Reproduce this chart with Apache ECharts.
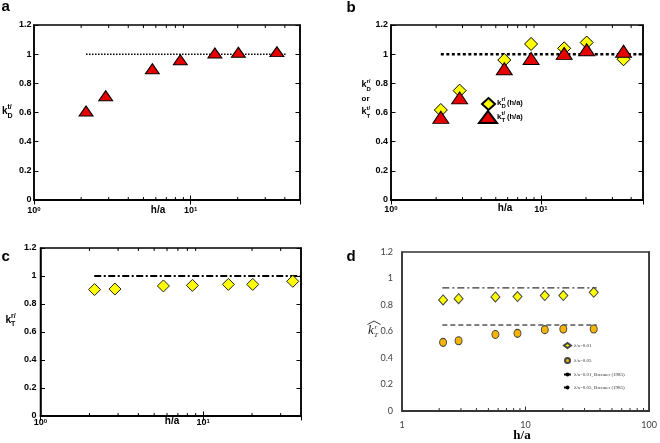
<!DOCTYPE html>
<html><head><meta charset="utf-8">
<script src="https://cdn.jsdelivr.net/npm/echarts@6/dist/echarts.min.js"></script>
<style>html,body{margin:0;padding:0;background:#fff}#c{width:660px;height:443px}</style>
</head><body><div id="c"></div>
<script>
// ---- data ----
const hA = [2.15, 2.87, 5.7, 8.6, 14.3, 20.2, 35.6];
const kDt_a = [0.61, 0.715, 0.90, 0.962, 1.008, 1.013, 1.017];
const kDr_b = [0.617, 0.75, 0.96, 1.07, 1.04, 1.08, 0.965];
const kTt_b = [0.567, 0.70, 0.90, 0.97, 1.005, 1.03, 1.02];
const kTr_c = [0.903, 0.907, 0.929, 0.933, 0.94, 0.94, 0.962];
const kT_d001 = [0.838, 0.848, 0.861, 0.864, 0.871, 0.871, 0.896];
const kT_d005 = [0.518, 0.53, 0.578, 0.586, 0.614, 0.619, 0.619];
const refX_a = [2.15, 41];
const refX_b = [2.15, 47];
const refX_c = [2.14, 40];
const refX_d = [2.12, 37.6];
const refY = 1;
const brenner001 = 0.929;
const brenner005 = 0.649;
const xMaxes = [50, 48, 40, 100];
const logTickLabels = {1: '10{s|0}', 10: '10{s|1}'};
const dTickLabels = {1: '1', 10: '10', 100: '100'};
const minorTicks = [2, 3, 4, 5, 6, 7, 8, 9, 20, 30, 40, 50, 60, 70, 80, 90];
const legendNamesD = ['λ/a=0.01', 'λ/a=0.05', 'λ/a=0.01, Brenner (1985)', 'λ/a=0.05, Brenner (1985)'];

const chart = echarts.init(document.getElementById('c'), null, {renderer: 'canvas'});
const SANS = '"Liberation Sans", Arial, sans-serif';
const SERIF = '"Liberation Serif", "Times New Roman", serif';

const grids = [
  {left: 34, top: 25, width: 266, height: 175},
  {left: 391, top: 25, width: 252, height: 175},
  {left: 40.5, top: 248, width: 260.5, height: 168},
  {left: 402, top: 252, width: 250, height: 159}
].map((g, i) => Object.assign(g, {show: true, borderColor: i === 3 ? '#333' : '#000', borderWidth: 1.5, backgroundColor: 'transparent'}));

function isPow10(v) { const l = Math.log10(v); return Math.abs(l - Math.round(l)) < 1e-6; }

const xLabelMargin = [6, 5.5, 2, 10];
const yLabelMargin = [2.5, 3, 4, 9];
const xAxis = [], yAxis = [];
for (let i = 0; i < 4; i++) {
  const isD = i === 3;
  const col = isD ? '#333' : '#000';
  xAxis.push({
    type: 'log', logBase: 10, gridIndex: i, min: 1, max: xMaxes[i],
    axisLine: {show: true, lineStyle: {color: col, width: 1.5}},
    axisTick: {show: true, inside: true, length: 4.5, lineStyle: {color: col, width: 1}},
    splitLine: {show: false}, minorTick: {show: false},
    axisLabel: {
      show: true, margin: xLabelMargin[i], showMaxLabel: isD, showMinLabel: true,
      formatter: v => {
        if (!isPow10(v)) return '';
        const r = Math.round(v);
        return isD ? (dTickLabels[r] || '') : (logTickLabels[r] || '');
      },
      color: isD ? '#404040' : '#000',
      fontSize: 9, fontWeight: isD ? 'normal' : 'bold', fontFamily: isD ? 'Lato, sans-serif' : SANS,
      rich: {s: {fontSize: 6, fontWeight: 'bold', fontFamily: SANS, verticalAlign: 'top', lineHeight: 6, color: '#000'}}
    }
  });
  xAxis.push({
    type: 'log', logBase: 10, gridIndex: i, min: 1, max: xMaxes[i], position: 'top',
    axisLine: {show: true, lineStyle: {color: col, width: 1.5}},
    axisTick: {show: !isD, inside: true, length: 4.5, lineStyle: {color: col, width: 1}},
    axisLabel: {show: false}, splitLine: {show: false}
  });
  yAxis.push({
    type: 'value', gridIndex: i, min: 0, max: 1.2, interval: 0.2,
    axisLine: {show: true, lineStyle: {color: col, width: 1.5}},
    axisTick: {show: !isD, inside: true, length: 4.5, lineStyle: {color: col, width: 1}},
    splitLine: {show: false},
    axisLabel: {show: true, margin: yLabelMargin[i], color: isD ? '#404040' : '#000', fontSize: 9,
      fontWeight: isD ? 'normal' : 'bold', fontFamily: isD ? 'Lato, sans-serif' : SANS}
  });
  yAxis.push({
    type: 'value', gridIndex: i, min: 0, max: 1.2, interval: 0.2, position: 'right',
    axisLine: {show: true, lineStyle: {color: col, width: 1.5}},
    axisTick: {show: !isD, inside: true, length: 4.5, lineStyle: {color: col, width: 1}},
    splitLine: {show: false}, axisLabel: {show: false}
  });
}

function minorTickSeries(i, both, len, color) {
  const ticks = minorTicks.filter(v => v < xMaxes[i]);
  return {
    type: 'custom', xAxisIndex: 2 * i, yAxisIndex: 2 * i, silent: true, z: 10,
    data: ticks.map(v => [v, 0]),
    renderItem(params, api) {
      const x = api.value(0);
      const p0 = api.coord([x, 0]);
      const p1 = api.coord([x, 1.2]);
      const ch = [{type: 'line', shape: {x1: p0[0], y1: p0[1], x2: p0[0], y2: p0[1] - len}, style: {stroke: color, lineWidth: 1}}];
      if (both) ch.push({type: 'line', shape: {x1: p1[0], y1: p1[1], x2: p1[0], y2: p1[1] + len}, style: {stroke: color, lineWidth: 1}});
      return {type: 'group', children: ch};
    }
  };
}

function refLine(i, name, xs, y, lineStyle) {
  return {type: 'line', name, xAxisIndex: 2 * i, yAxisIndex: 2 * i, symbol: 'none', silent: true,
    data: xs.map(x => [x, y]), lineStyle: Object.assign({color: '#000'}, lineStyle),
    itemStyle: {color: '#000'}, z: 2};
}
function scatter(i, name, ys, symbol, size, fill, border) {
  return {type: 'scatter', name, xAxisIndex: 2 * i, yAxisIndex: 2 * i, symbol, symbolSize: size,
    data: hA.map((x, k) => [x, ys[k]]),
    itemStyle: {color: fill, borderColor: border, borderWidth: 1, opacity: 1}, z: 3};
}

const RED = '#e60000', YEL = '#ffff00', ORG = '#f5b400';
const series = [
  minorTickSeries(0, true, 3, '#000'),
  minorTickSeries(1, true, 3, '#000'),
  minorTickSeries(2, true, 3, '#000'),
  minorTickSeries(3, false, 3, '#333'),
  refLine(0, 'refA', refX_a, refY, {width: 1.5, type: [1.5, 1.5]}),
  scatter(0, 'kDt_a', kDt_a, 'triangle', [14, 10], RED, '#000'),
  refLine(1, 'refB', refX_b, refY, {width: 2.5, type: [3, 2.5]}),
  scatter(1, 'kDr_b', kDr_b, 'diamond', [13, 13], YEL, '#000'),
  scatter(1, 'kTt_b', kTt_b, 'triangle', [16, 12], RED, '#000'),
  refLine(2, 'refC', refX_c, refY, {width: 1.8, type: [7, 2.5, 2, 2.5]}),
  scatter(2, 'kTr_c', kTr_c, 'diamond', [12, 12], YEL, '#222'),
  refLine(3, legendNamesD[2], refX_d, brenner001, {width: 1, type: [7, 3, 2, 3]}),
  refLine(3, legendNamesD[3], refX_d, brenner005, {width: 1, type: [5, 3]}),
  scatter(3, legendNamesD[0], kT_d001, 'diamond', [9, 10], YEL, '#444'),
  scatter(3, legendNamesD[1], kT_d005, 'circle', [7, 8], ORG, '#444')
];

function txt(x, y, text, font, opts) {
  opts = opts || {};
  return {type: 'text', x, y, silent: true, z: 20,
    style: {text, font, fill: opts.fill || '#000',
      textAlign: opts.align || 'left', align: opts.align || 'left',
      textVerticalAlign: 'middle', verticalAlign: 'middle'}};
}
function kTitle(x, y, sub, sup, size, out) {
  out.push(txt(x, y, 'k', 'bold ' + size + 'px ' + SANS));
  const w = size * 0.55;
  out.push(txt(x + w, y - size * 0.4, sup, 'bold ' + Math.round(size * 0.7) + 'px ' + SANS));
  out.push(txt(x + w, y + size * 0.45, sub, 'bold ' + Math.round(size * 0.7) + 'px ' + SANS));
}

const graphics = [];
graphics.push(txt(1.5, 6.5, 'a', 'bold 15px ' + SANS));
graphics.push(txt(346.5, 8, 'b', 'bold 15px ' + SANS));
graphics.push(txt(1.5, 256.5, 'c', 'bold 15px ' + SANS));
graphics.push(txt(346.5, 256.5, 'd', 'bold 15px ' + SANS));
graphics.push(txt(158, 210, 'h/a', 'bold 10px ' + SANS, {align: 'center'}));
graphics.push(txt(505, 208, 'h/a', 'bold 10px ' + SANS, {align: 'center'}));
graphics.push(txt(172, 421.5, 'h/a', 'bold 10px ' + SANS, {align: 'center'}));
graphics.push(txt(522, 436, 'h/a', 'bold 13px ' + SERIF, {align: 'center'}));
kTitle(2, 111.5, 'D', 't/', 10, graphics);
kTitle(361.5, 85, 'D', 'r/', 9, graphics);
graphics.push(txt(361.5, 99, 'or', 'bold 8px ' + SANS));
kTitle(361.5, 112, 'T', 't/', 9, graphics);
kTitle(5.5, 320, 'T', 'r/', 10, graphics);
graphics.push(txt(368, 331, 'k', 'italic 13px ' + SERIF, {fill: '#222'}));
graphics.push(txt(374.5, 327.5, 'r', 'italic 7px ' + SERIF, {fill: '#222'}));
graphics.push(txt(374, 335.5, 'T', 'italic 7px ' + SERIF, {fill: '#222'}));
graphics.push({type: 'polyline', silent: true, z: 20, shape: {points: [[367.5, 324.5], [374, 321], [380.5, 324.5]]},
  style: {stroke: '#222', lineWidth: 0.9, fill: null}});
kTitle(497, 103, 'D', 'r/', 8, graphics);
graphics.push(txt(507, 103, '(h/a)', 'bold 7.5px ' + SANS));
kTitle(497, 117, 'T', 't/', 8, graphics);
graphics.push(txt(507, 117, '(h/a)', 'bold 7.5px ' + SANS));

chart.setOption({
  animation: false,
  backgroundColor: '#fff',
  grid: grids,
  xAxis, yAxis, series,
  legend: [
    {data: ['kDr_b'], left: 481, top: 97, padding: 0, itemWidth: 13, itemHeight: 12, formatter: () => '', selectedMode: false},
    {data: ['kTt_b'], left: 478, top: 110, padding: 0, itemWidth: 18, itemHeight: 12, formatter: () => '', selectedMode: false},
    {data: legendNamesD, orient: 'vertical', left: 563, top: 342, padding: 0, itemWidth: 7, itemHeight: 5, itemGap: 8,
      selectedMode: false, textStyle: {fontSize: 5, fontFamily: SERIF, color: '#333', padding: [0, 0, 0, -2]}}
  ],
  graphic: graphics
});
</script></body></html>
